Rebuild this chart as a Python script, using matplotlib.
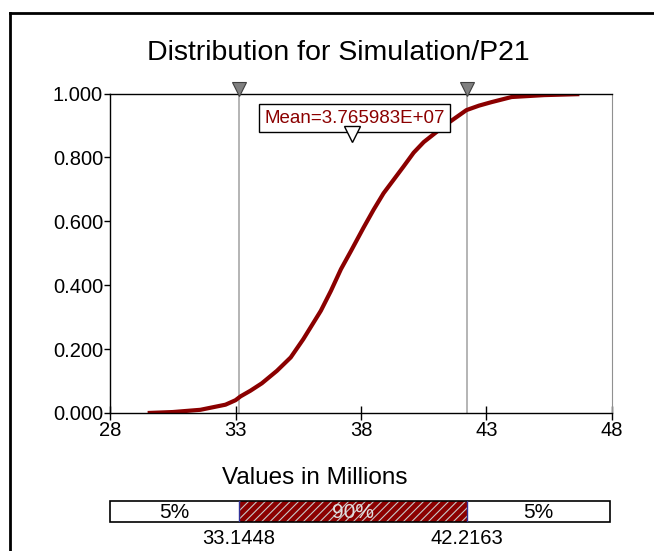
import matplotlib
matplotlib.use("Agg")
import matplotlib.pyplot as plt
from matplotlib.lines import Line2D
from matplotlib.patches import Rectangle

plt.rcParams["font.family"] = ["Liberation Sans", "DejaVu Sans"]
plt.rcParams["hatch.linewidth"] = 0.8
plt.rcParams["hatch.color"] = "#c8c8c8"

# cumulative curve (values in millions)
values = [29.5, 30.5, 31.6, 32.6, 33.0, 33.2, 33.6, 34.05, 34.65, 35.2, 35.7,
          36.4, 36.8, 37.2, 37.6, 38.1, 38.5, 38.9, 39.3, 39.7, 40.1, 40.5,
          41.0, 41.55, 42.2, 42.7, 43.2, 44.0, 45.3, 46.7]
cum_prob = [0.0, 0.003, 0.01, 0.026, 0.04, 0.052, 0.07, 0.093, 0.132, 0.174,
            0.231, 0.32, 0.382, 0.45, 0.507, 0.58, 0.636, 0.688, 0.73, 0.772,
            0.815, 0.848, 0.879, 0.912, 0.948, 0.962, 0.973, 0.989, 0.995, 0.998]

x_ticks = [28, 33, 38, 43, 48]
y_ticks = [0.0, 0.2, 0.4, 0.6, 0.8, 1.0]
lower_5 = 33.1448
upper_95 = 42.2163
mean_val = 37.65983
band_labels = ["5%", "90%", "5%"]

red = "#8b0000"

fig = plt.figure(figsize=(6.54, 5.51), dpi=100)
W, H = 654, 551

# outer frame (only left and top show)
fig.add_artist(Line2D([10 / W, 10 / W], [-0.01, 1 - 13 / H], color="black", lw=2))
fig.add_artist(Line2D([10 / W, 1.02], [1 - 13 / H, 1 - 13 / H], color="black", lw=2))

ax = fig.add_axes([110 / W, 138 / H, 502 / W, 319.5 / H])
ax.plot(values, cum_prob, color=red, lw=3, solid_capstyle="butt")
ax.set_xlim(28, 48)
ax.set_ylim(0, 1)
ax.set_xticks(x_ticks)
ax.set_yticks(y_ticks)
ax.set_yticklabels([f"{v:.3f}" for v in y_ticks])
ax.tick_params(axis="x", direction="inout", length=10, width=1, pad=1, labelsize=14.5)
ax.tick_params(axis="y", direction="out", length=4, width=1, pad=1, labelsize=14.5)
for s in ["left", "bottom", "top"]:
    ax.spines[s].set_color("black")
    ax.spines[s].set_linewidth(1)
ax.spines["right"].set_color("#909090")

for v in [lower_5, upper_95]:
    ax.axvline(v, color="#a8a8a8", lw=1.2, zorder=1)
    ax.plot([v], [1.013], marker="v", ms=10, color="#808080", mec="#404040",
            mew=0.8, clip_on=False, zorder=5)

ax.plot([mean_val], [0.873], marker="v", ms=11, mfc="white", mec="black",
        mew=1, zorder=6)
ax.text(37.74, 0.923, "Mean=3.765983E+07", color=red, fontsize=13.5,
        ha="center", va="center", zorder=5,
        bbox=dict(boxstyle="square,pad=0.28", fc="white", ec="black", lw=1))

fig.text(338 / W, 1 - 53 / H, "Distribution for Simulation/P21",
         fontsize=20.5, ha="center", va="center")
fig.text(315 / W, 1 - 478 / H, "Values in Millions",
         fontsize=17.5, ha="center", va="center")

# percentile band
bx = fig.add_axes([110 / W, 29 / H, 502 / W, 21.5 / H])
bx.set_xlim(28, 48)
bx.set_ylim(0, 1)
bx.axis("off")
edges = [28, lower_5, upper_95, 47.92]
for i, lab in enumerate(band_labels):
    x0, x1 = edges[i], edges[i + 1]
    if i == 1:
        bx.add_patch(Rectangle((x0, 0), x1 - x0, 1, fc=red, ec="#c8c8c8",
                               hatch="////", lw=0))
        tc = "#e0e0e0"
    else:
        bx.add_patch(Rectangle((x0, 0), x1 - x0, 1, fc="white", lw=0))
        tc = "black"
    bx.text((x0 + x1) / 2, 0.45, lab, color=tc, fontsize=15,
            ha="center", va="center")
bx.add_patch(Rectangle((edges[0], 0), edges[3] - edges[0], 1, fill=False,
                       ec="black", lw=1.2, clip_on=False))
for v in [lower_5, upper_95]:
    bx.plot([v, v], [0, 1], color="#333399", lw=1)
    bx.text(v, -0.75, f"{v:.4f}", fontsize=14.5, ha="center", va="center")

fig.savefig("out.png", dpi=100)
